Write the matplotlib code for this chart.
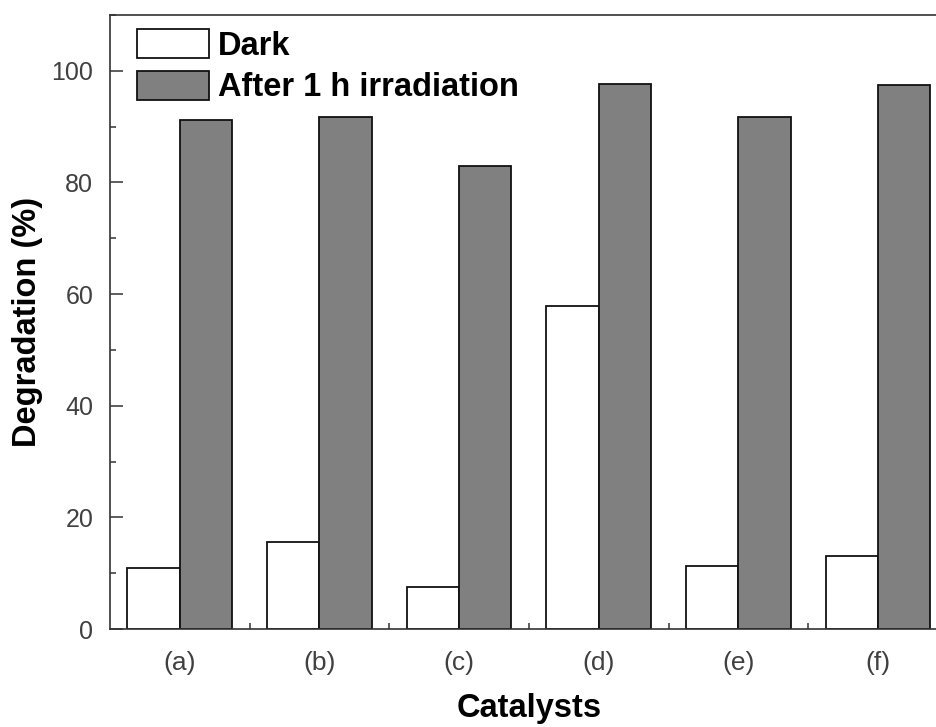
import matplotlib
matplotlib.use("Agg")
import matplotlib.pyplot as plt
from matplotlib.ticker import MultipleLocator
import numpy as np

catalysts = ['(a)', '(b)', '(c)', '(d)', '(e)', '(f)']
dark = [11.0, 15.5, 7.5, 57.9, 11.3, 13.0]
irradiated = [91.2, 91.7, 82.9, 97.7, 91.7, 97.4]

plt.rcParams['font.family'] = ['Liberation Sans', 'DejaVu Sans']

fig = plt.figure(figsize=(9.36, 7.27), dpi=100)
ax = fig.add_axes([0.1175, 0.1348, 0.8951, 0.8446])

x = np.arange(len(catalysts))
w = 0.375
ax.bar(x - w / 2, dark, w, color='white', edgecolor='#111111', linewidth=1.3, label='Dark')
ax.bar(x + w / 2, irradiated, w, color='#808080', edgecolor='#111111', linewidth=1.3,
       label='After 1 h irradiation')

ax.set_xlim(-0.5, 5.5)
ax.set_ylim(0, 110)
ax.set_xticks(x)
ax.set_xticklabels(catalysts)
ax.set_xticks(x[:-1] + 0.5, minor=True)
ax.yaxis.set_major_locator(MultipleLocator(20))
ax.yaxis.set_minor_locator(MultipleLocator(10))
ax.set_yticks(np.arange(0, 101, 20))

ax.tick_params(axis='x', which='major', length=0, pad=16, labelsize=19, labelcolor='#404040')
ax.tick_params(axis='x', which='minor', direction='in', length=4.3, width=1.1, color='#333333')
ax.tick_params(axis='y', which='major', direction='in', length=9.4, width=1.1, color='#333333',
               pad=12, labelsize=18, labelcolor='#404040')
ax.tick_params(axis='y', which='minor', direction='in', length=4.3, width=1.1, color='#333333')

for s in ax.spines.values():
    s.set_linewidth(1.2)
    s.set_color('#333333')

ax.set_xlabel('Catalysts', fontsize=23.5, fontweight='bold', labelpad=13)
ax.set_ylabel('Degradation (%)', fontsize=23.5, fontweight='bold', labelpad=6)

ax.legend(loc='upper left', bbox_to_anchor=(0.0322, 0.977), frameon=False,
          prop={'weight': 'bold', 'size': 23.5},
          handlelength=2.2, handleheight=1.0, handletextpad=0.28,
          labelspacing=0.27, borderpad=0, borderaxespad=0)

fig.savefig('out.png', dpi=100)
